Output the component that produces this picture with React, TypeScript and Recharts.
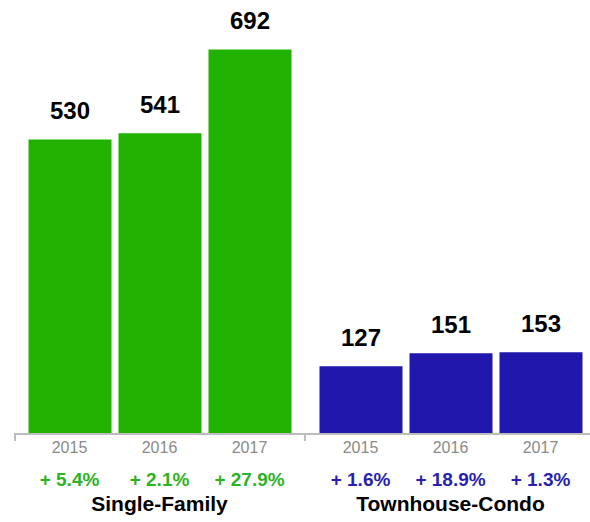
import React from 'react';
import { BarChart, Bar, XAxis, YAxis, LabelList } from 'recharts';

const years = ['2015', '2016', '2017'];
const singleFamilyValues = [530, 541, 692];
const townhouseValues = [127, 151, 153];
const singleFamilyChanges = ['+ 5.4%', '+ 2.1%', '+ 27.9%'];
const townhouseChanges = ['+ 1.6%', '+ 18.9%', '+ 1.3%'];
const groupTitles = ['Single-Family', 'Townhouse-Condo'];

const FONT = '"Liberation Sans", Arial, Helvetica, sans-serif';

type GroupProps = {
  values: number[];
  changes: string[];
  title: string;
  color: string;
  pctColor: string;
  domainMax: number;
  left: number;
};

function Group({ values, changes, title, color, pctColor, domainMax, left }: GroupProps) {
  const data = years.map((y, i) => ({ year: y, value: values[i], change: changes[i] }));
  const renderTick = (props: any) => {
    const { x, y, payload } = props;
    const idx = years.indexOf(String(payload.value));
    return (
      <g transform={`translate(${x},${y})`}>
        <text textAnchor="middle" y={19} fill="#8a8a8a" fontSize={16}>
          {payload.value}
        </text>
        <text textAnchor="middle" y={52} fill={pctColor} fontSize={19} fontWeight="bold">
          {changes[idx]}
        </text>
      </g>
    );
  };
  return (
    <div style={{ position: 'absolute', left, top: 0 }}>
      <BarChart width={291} height={522} data={data} margin={{ top: 45, right: 0, bottom: 0, left: 0 }}>
        <YAxis hide domain={[0, domainMax]} />
        <XAxis
          dataKey="year"
          height={88}
          padding={{ left: 10.5, right: 10.5 }}
          tickLine={false}
          tickSize={0}
          tickMargin={0}
          interval={0}
          axisLine={{ stroke: '#bdbdbd', strokeWidth: 2 }}
          tick={renderTick}
          label={{
            value: title,
            position: 'insideBottom',
            offset: 11,
            fill: '#000',
            fontSize: 21,
            fontWeight: 'bold',
          }}
        />
        <Bar dataKey="value" fill={color} barSize={83} isAnimationActive={false}>
          <LabelList
            dataKey="value"
            position="top"
            offset={20}
            fill="#000"
            fontSize={24}
            fontWeight="bold"
          />
        </Bar>
      </BarChart>
    </div>
  );
}

export default function App() {
  return (
    <div
      style={{
        position: 'absolute',
        left: 0,
        top: 0,
        width: 590,
        height: 522,
        overflow: 'hidden',
        background: '#fff',
        fontFamily: FONT,
      }}
    >
      <Group
        values={singleFamilyValues}
        changes={singleFamilyChanges}
        title={groupTitles[0]}
        color="#21b201"
        pctColor="#2cb324"
        domainMax={700}
        left={14}
      />
      <Group
        values={townhouseValues}
        changes={townhouseChanges}
        title={groupTitles[1]}
        color="#2017ad"
        pctColor="#2a1fb0"
        domainMax={728}
        left={305}
      />
      <div style={{ position: 'absolute', left: 14, top: 434, width: 2, height: 7, background: '#bdbdbd' }} />
      <div style={{ position: 'absolute', left: 304, top: 434, width: 2, height: 7, background: '#bdbdbd' }} />
    </div>
  );
}
